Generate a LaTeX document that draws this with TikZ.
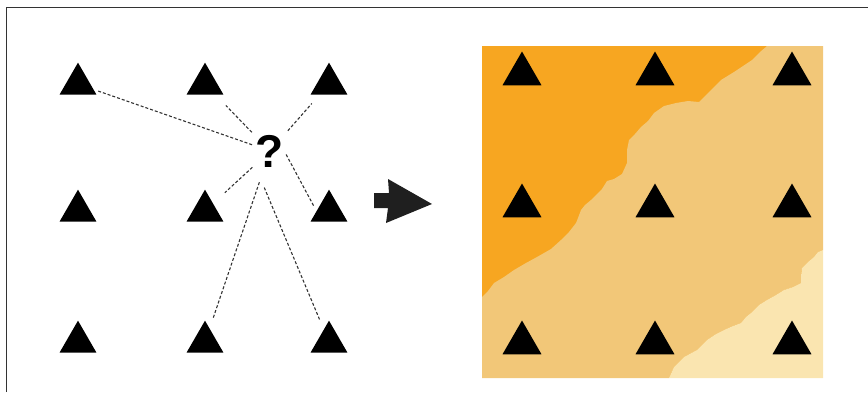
\documentclass[tikz,border=0pt]{standalone}
\usepackage{fontspec}
\usepackage{tikz}
\usetikzlibrary{shapes.geometric}
\newfontfamily\qfont{Liberation Sans}
\tikzset{tri/.style = {fill, regular polygon, regular polygon sides = 3, inner sep = 0, minimum size = 42.7pt}}
\tikzset{bigtri/.style = {tri, minimum size = 45pt}}
\tikzset{link/.style = {draw = mgray, line width = 1.1pt, dash pattern = on 3pt off 2pt}}
\definecolor{mgray}{rgb}{0.2, 0.2, 0.2}
\definecolor{mdark}{rgb}{0.97, 0.65, 0.13}
\definecolor{mmid}{rgb}{0.95, 0.78, 0.47}
\definecolor{mlight}{rgb}{0.98, 0.9, 0.69}
\begin{document}
\begin{tikzpicture}[x = 1pt, y = -1pt]
    \useasboundingbox (0, 0) rectangle (868, 392);
    \draw [mgray, line width = 1.5pt] (6.5, 392) -- (6.5, 7.5) -- (868, 7.5);

    % sample points
    \node [tri] (tl) at (78, 84) {};
    \node [tri] (tm) at (205, 84) {};
    \node [tri] (tr) at (329, 84) {};
    \node [tri] (ml) at (78, 211) {};
    \node [tri] (mm) at (205, 211) {};
    \node [tri] (mr) at (329, 211) {};
    \node [tri] (bl) at (78, 342) {};
    \node [tri] (bm) at (205, 342) {};
    \node [tri] (br) at (329, 342) {};

    \node [inner sep = 0, font = \qfont\bfseries\fontsize{46}{46}\selectfont] (q) at (270, 151) {?};

    \draw [link, shorten <= 19pt, shorten >= 20pt] (q.center) -- (tl.center);
    \draw [link, shorten <= 26pt, shorten >= 30pt] (q.center) -- (tm.center);
    \draw [link, shorten <= 27pt, shorten >= 26pt] (q.center) -- (tr.center);
    \draw [link, shorten <= 24pt, shorten >= 27pt] (q.center) -- (mm.center);
    \draw [link, shorten <= 4pt, shorten >= 5pt] (q.east) -- (mr.west);
    \draw [link, shorten <= 33pt, shorten >= 24pt] (q.center) -- (bm.center);
    \draw [link, shorten <= 22pt, shorten >= 24pt] (q.south west) -- (br.center);

    % arrow
    \fill [black!88] (374, 193) -- (389, 193) -- (388, 179) -- (432, 204)
      -- (386, 223) -- (388, 208) -- (374, 208) -- cycle;

    % interpolated map
    \fill [mdark] (482, 46) rectangle (823, 378);
    \fill [mmid] (823, 46) -- (767, 46) -- (760, 52) -- (752, 60) -- (743, 66)
      -- (734, 72) -- (721, 80) -- (712, 89) -- (704, 97) -- (699, 102)
      -- (688, 101) -- (676, 103) -- (664, 106) -- (654, 113) -- (648, 121)
      -- (641, 127) -- (635, 134) -- (629, 140) -- (627, 150) -- (627, 163)
      -- (622, 174) -- (614, 179) -- (607, 181) -- (602, 189) -- (596, 195)
      -- (591, 200) -- (585, 205) -- (581, 210) -- (578, 218) -- (576, 223)
      -- (569, 232) -- (561, 240) -- (551, 249) -- (544, 253) -- (537, 257)
      -- (526, 263) -- (514, 270) -- (504, 277) -- (494, 283) -- (488, 291)
      -- (482, 297) -- (482, 378) -- (669, 378) -- (674, 367) -- (684, 357)
      -- (697, 350) -- (707, 340) -- (716, 334) -- (724, 330) -- (733, 326)
      -- (741, 323) -- (746, 317) -- (751, 313) -- (759, 305) -- (767, 300)
      -- (776, 295) -- (784, 290) -- (793, 287) -- (801, 283) -- (801, 276)
      -- (802, 268) -- (808, 262) -- (814, 257) -- (818, 252) -- (823, 250) -- cycle;
    \fill [mlight] (823, 378) -- (669, 378) -- (674, 367) -- (684, 357)
      -- (697, 350) -- (707, 340) -- (716, 334) -- (724, 330) -- (733, 326)
      -- (741, 323) -- (746, 317) -- (751, 313) -- (759, 305) -- (767, 300)
      -- (776, 295) -- (784, 290) -- (793, 287) -- (801, 283) -- (801, 276)
      -- (802, 268) -- (808, 262) -- (814, 257) -- (818, 252) -- (823, 250) -- cycle;

    \node [bigtri] (rtl) at (522, 74) {};
    \node [bigtri] (rtm) at (655, 74) {};
    \node [bigtri] (rtr) at (792, 74) {};
    \node [bigtri] (rml) at (522, 206) {};
    \node [bigtri] (rmm) at (655, 206) {};
    \node [bigtri] (rmr) at (792, 206) {};
    \node [bigtri] (rbl) at (522, 343) {};
    \node [bigtri] (rbm) at (655, 343) {};
    \node [bigtri] (rbr) at (792, 343) {};
  \end{tikzpicture}
\end{document}
